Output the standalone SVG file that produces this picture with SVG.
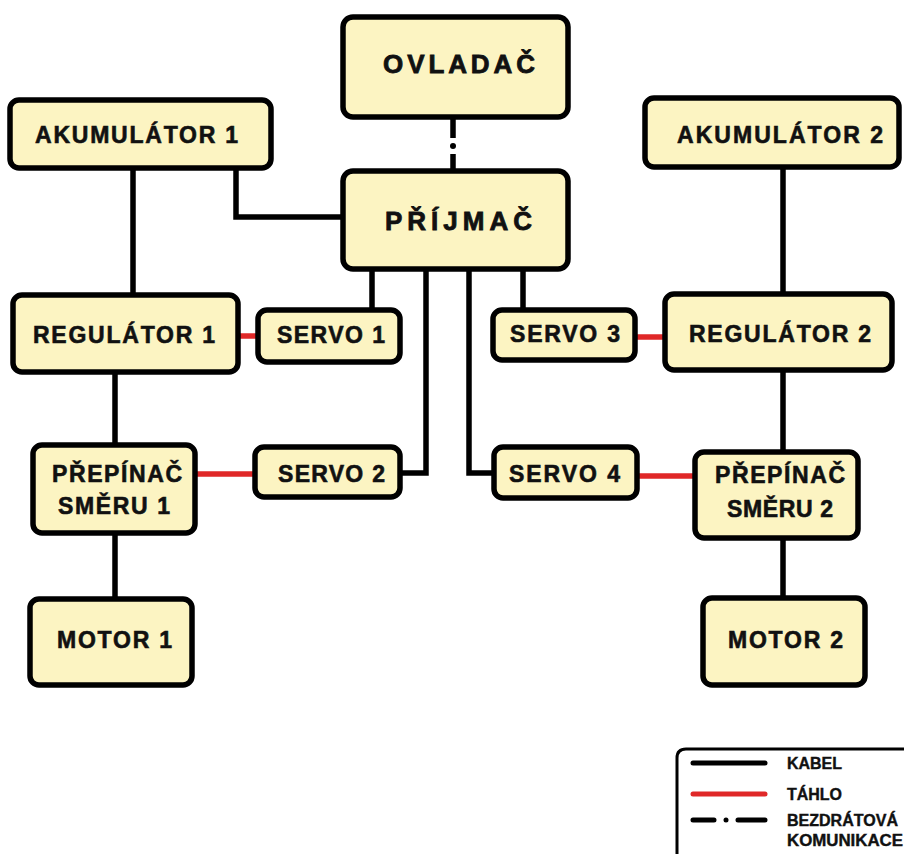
<svg xmlns="http://www.w3.org/2000/svg" width="904" height="854" viewBox="0 0 904 854">
<style>
.box{fill:#FCF4C2;stroke:#000;stroke-width:5.5}
.t{font-family:"Liberation Sans",Arial,sans-serif;font-weight:bold;font-size:23px;fill:#111;stroke:#111;stroke-width:0.6}
.tb{font-size:26px;stroke-width:0.8}
.lg{font-family:"Liberation Sans",Arial,sans-serif;font-weight:bold;font-size:16px;fill:#111;stroke:#111;stroke-width:0.4}
.k{fill:none;stroke:#000;stroke-width:5.5}
.r{fill:none;stroke:#E02828;stroke-width:5.5}
</style>
<rect width="904" height="854" fill="#fff"/>
<g id="connectors">
<path class="k" d="M453 118V138M453 154V171"/>
<circle cx="453" cy="146" r="3" fill="#000"/>
<path class="k" d="M133 168V296M236 168V217H344"/>
<path class="k" d="M372 268V311M426 268V473H400M469 268V473H494M523 268V311"/>
<path class="k" d="M783 166V294M115 371V446M115 533V599M783 370V452M783 538V598"/>
<path class="r" d="M238 336H258M195 474H255M635 337H665M637 476H695"/>
</g>
<g id="ovladac"><rect class="box" x="343" y="17" width="225" height="100" rx="10"/><text class="t tb" x="383" y="73" textLength="152" lengthAdjust="spacing">OVLADAČ</text></g>
<g id="prijimac"><rect class="box" x="343" y="171" width="225" height="98" rx="10"/><text class="t tb" x="385" y="230" textLength="147" lengthAdjust="spacing">PŘÍJMAČ</text></g>
<g id="akumulator1"><rect class="box" x="10" y="100" width="261" height="68" rx="9"/><text class="t" x="35" y="143" textLength="203" lengthAdjust="spacing">AKUMULÁTOR 1</text></g>
<g id="akumulator2"><rect class="box" x="645" y="98" width="254" height="69" rx="9"/><text class="t" x="677" y="143" textLength="206" lengthAdjust="spacing">AKUMULÁTOR 2</text></g>
<g id="regulator1"><rect class="box" x="13" y="295" width="225" height="77" rx="9"/><text class="t" x="33" y="343" textLength="182" lengthAdjust="spacing">REGULÁTOR 1</text></g>
<g id="servo1"><rect class="box" x="258" y="310" width="142" height="52" rx="9"/><text class="t" x="277" y="343" textLength="108" lengthAdjust="spacing">SERVO 1</text></g>
<g id="servo2"><rect class="box" x="255" y="447" width="145" height="50" rx="9"/><text class="t" x="278" y="482" textLength="107" lengthAdjust="spacing">SERVO 2</text></g>
<g id="prepinac1"><rect class="box" x="33" y="445" width="162" height="88" rx="9"/><text class="t" x="52" y="482" textLength="130" lengthAdjust="spacing">PŘEPÍNAČ</text><text class="t" x="58" y="514" textLength="112" lengthAdjust="spacing">SMĚRU 1</text></g>
<g id="motor1"><rect class="box" x="30" y="599" width="162" height="86" rx="9"/><text class="t" x="57" y="648" textLength="115" lengthAdjust="spacing">MOTOR 1</text></g>
<g id="servo3"><rect class="box" x="493" y="310" width="142" height="50" rx="9"/><text class="t" x="510" y="342" textLength="110" lengthAdjust="spacing">SERVO 3</text></g>
<g id="servo4"><rect class="box" x="494" y="447" width="143" height="51" rx="9"/><text class="t" x="509" y="482" textLength="111" lengthAdjust="spacing">SERVO 4</text></g>
<g id="regulator2"><rect class="box" x="665" y="294" width="227" height="76" rx="9"/><text class="t" x="689" y="342" textLength="182" lengthAdjust="spacing">REGULÁTOR 2</text></g>
<g id="prepinac2"><rect class="box" x="695" y="452" width="163" height="86" rx="9"/><text class="t" x="715" y="483" textLength="130" lengthAdjust="spacing">PŘEPÍNAČ</text><text class="t" x="727" y="517" textLength="106" lengthAdjust="spacing">SMĚRU 2</text></g>
<g id="motor2"><rect class="box" x="703" y="598" width="162" height="87" rx="9"/><text class="t" x="728" y="648" textLength="115" lengthAdjust="spacing">MOTOR 2</text></g>
<g id="legend">
<path d="M907 749H686Q677 749 677 758V858" fill="#fff" stroke="#000" stroke-width="3"/>
<path d="M693 763H765" stroke="#000" stroke-width="5" stroke-linecap="round"/>
<path d="M693 794H765" stroke="#E02828" stroke-width="5" stroke-linecap="round"/>
<path d="M693 820H714M738 820H765" stroke="#000" stroke-width="5" stroke-linecap="round"/>
<circle cx="726" cy="820" r="2.5" fill="#000"/>
<text class="lg" x="787" y="769" textLength="55" lengthAdjust="spacingAndGlyphs">KABEL</text>
<text class="lg" x="787" y="800" textLength="55" lengthAdjust="spacingAndGlyphs">TÁHLO</text>
<text class="lg" x="787" y="826" textLength="111" lengthAdjust="spacingAndGlyphs">BEZDRÁTOVÁ</text>
<text class="lg" x="787" y="846" textLength="116" lengthAdjust="spacingAndGlyphs">KOMUNIKACE</text>
</g>
</svg>
